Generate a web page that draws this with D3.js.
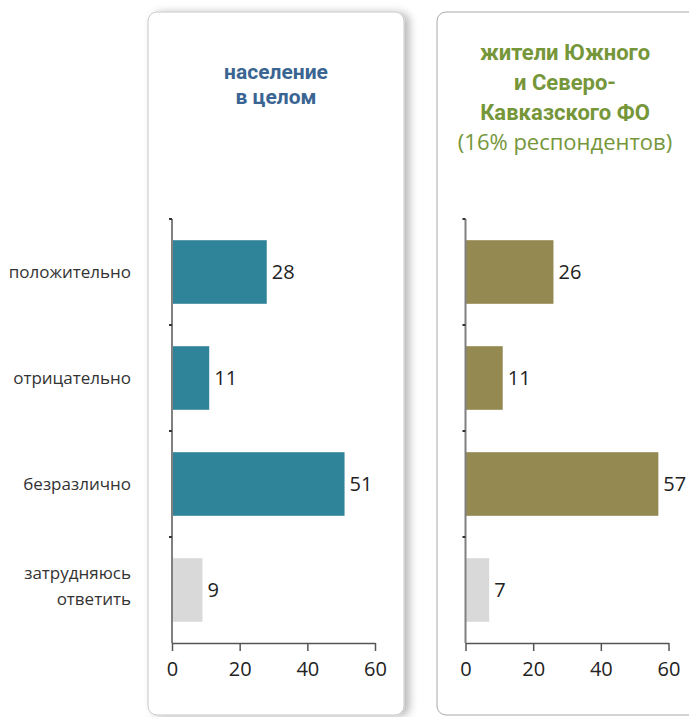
<!DOCTYPE html>
<html>
<head>
<meta charset="utf-8">
<script src="https://cdn.jsdelivr.net/npm/d3@7"></script>
<style>
  html, body { margin: 0; padding: 0; background: #fff; }
  svg { display: block; }
  text { font-family: "Open Sans", sans-serif; }
</style>
</head>
<body>
<svg id="chart" width="689" height="717"></svg>
<script>
// Отношение: население в целом и жители Южного и Северо-Кавказского ФО
const categories = ["положительно", "отрицательно", "безразлично", "затрудняюсь ответить"];
const categoryLines = [["положительно"], ["отрицательно"], ["безразлично"], ["затрудняюсь", "ответить"]];
const valuesAll = [28, 11, 51, 9];
const valuesSouth = [26, 11, 57, 7];
const xTicks = [0, 20, 40, 60];
const titleAll = ["население", "в целом"];
const titleSouth = ["жители Южного", "и Северо-", "Кавказского ФО"];
const subtitleSouth = "(16% респондентов)";

const svg = d3.select("#chart");
const defs = svg.append("defs");
const f = defs.append("filter").attr("id", "shadow").attr("x", "-10%").attr("y", "-5%").attr("width", "130%").attr("height", "110%");
f.append("feDropShadow").attr("dx", 5).attr("dy", 1).attr("stdDeviation", 4).attr("flood-color", "#000").attr("flood-opacity", 0.28);

const y = d3.scaleBand().domain(categories).range([219, 643]).paddingInner(0.4).paddingOuter(0.2);

function panel(opts) {
  const g = svg.append("g");
  g.append("rect")
    .attr("x", opts.box[0]).attr("y", 12)
    .attr("width", opts.box[1] - opts.box[0]).attr("height", 703)
    .attr("rx", 9)
    .attr("fill", "#fff")
    .attr("stroke", opts.boxStroke).attr("stroke-width", 1)
    .attr("filter", opts.shadow ? "url(#shadow)" : null);

  const x = d3.scaleLinear().domain([0, 60]).range([opts.x0, opts.x0 + 203]);

  // title, one text per line
  opts.title.forEach((s, i) => {
    g.append("text").attr("text-anchor", "middle")
      .attr("x", opts.titleX).attr("y", opts.titleY + i * opts.titleGap)
      .attr("fill", opts.titleColor)
      .style("font-family", "Roboto, 'Open Sans', sans-serif")
      .style("font-weight", "bold").style("font-size", opts.titleSize + "px")
      .text(s);
  });
  if (opts.subtitle) {
    g.append("text").attr("text-anchor", "middle")
      .attr("x", opts.titleX).attr("y", opts.titleY + opts.title.length * opts.titleGap)
      .attr("fill", opts.titleColor)
      .style("font-size", opts.titleSize + "px")
      .text(opts.subtitle);
  }

  // bars
  g.selectAll("rect.bar").data(opts.values).join("rect")
    .attr("class", "bar")
    .attr("x", x(0))
    .attr("y", (d, i) => y(categories[i]))
    .attr("width", d => x(d) - x(0))
    .attr("height", y.bandwidth())
    .attr("fill", (d, i) => i === 3 ? "#d9d9d9" : opts.color);

  // value labels
  g.selectAll("text.val").data(opts.values).join("text")
    .attr("class", "val")
    .attr("x", d => x(d) + 5)
    .attr("y", (d, i) => y(categories[i]) + y.bandwidth() / 2)
    .attr("dy", "0.35em")
    .attr("fill", "#222")
    .style("font-size", "20px")
    .text(d => d);

  // category axis: vertical line with small ticks at band edges
  const yEdges = categories.map(c => y(c) - y.step() * y.paddingInner() / 2);
  g.append("line").attr("x1", x(0)).attr("x2", x(0)).attr("y1", 219).attr("y2", 643)
    .attr("stroke", "#808080").attr("stroke-width", 2);
  g.selectAll("line.yt").data(yEdges).join("line")
    .attr("class", "yt")
    .attr("x1", x(0) - 3).attr("x2", x(0)).attr("y1", d => d).attr("y2", d => d)
    .attr("stroke", "#333").attr("stroke-width", 2);

  // value axis
  const ax = g.append("g").attr("transform", "translate(0,643)")
    .call(d3.axisBottom(x).tickValues(xTicks).tickSize(8).tickSizeOuter(0).tickPadding(11));
  ax.select(".domain").attr("stroke", "#555").attr("stroke-width", 1.5);
  ax.selectAll(".tick line").attr("stroke", "#555").attr("stroke-width", 1.5);
  ax.selectAll(".tick text").attr("fill", "#222")
    .style("font-family", "'Open Sans', sans-serif")
    .style("font-size", "20px");
  return g;
}

// category labels on the left
const lab = svg.append("g");
categoryLines.forEach((lines, i) => {
  const cy = y(categories[i]) + y.bandwidth() / 2;
  lines.forEach((s, j) => {
    lab.append("text").attr("text-anchor", "end").attr("fill", "#333")
      .style("font-size", "17px")
      .attr("x", 131)
      .attr("y", cy + (j - (lines.length - 1) / 2) * 26 - (lines.length > 1 ? 4 : 0))
      .attr("dy", "0.35em").text(s);
  });
});

panel({
  box: [148, 404], boxStroke: "#c8c8c8", shadow: true,
  x0: 172, values: valuesAll, color: "#30849a",
  title: titleAll, titleColor: "#3a6592", titleX: 276, titleY: 79, titleGap: 25, titleSize: 21
});
panel({
  box: [437, 700], boxStroke: "#a8a8a8", shadow: false,
  x0: 465.5, values: valuesSouth, color: "#938951",
  title: titleSouth, subtitle: subtitleSouth, titleColor: "#76963a", titleX: 565, titleY: 60, titleGap: 30, titleSize: 22
});
</script>
</body>
</html>
